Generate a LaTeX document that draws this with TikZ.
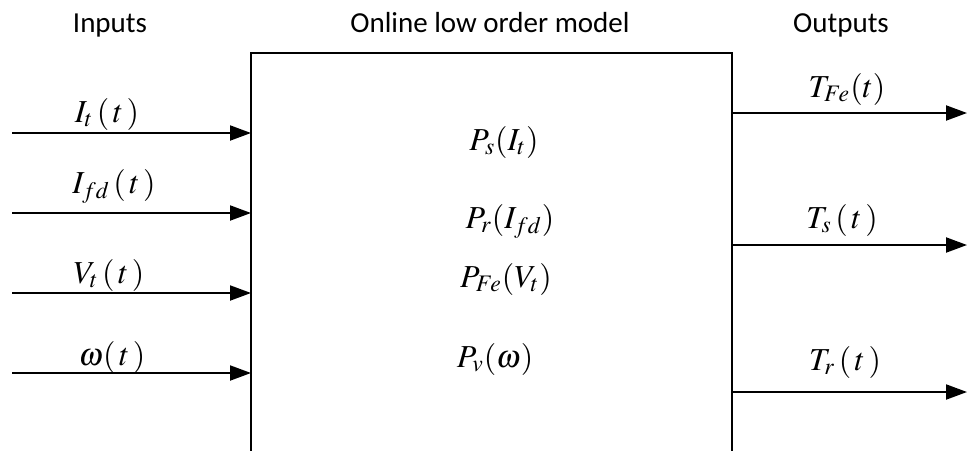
\documentclass[tikz,border=0pt]{standalone}
\usepackage{mathptmx}
\usepackage[no-math]{fontspec}
\setmainfont{Carlito}
\usetikzlibrary{arrows.meta,positioning}

\begin{document}
\begin{tikzpicture}[
    x=0.5pt, y=-0.5pt,
    frame/.style={draw, line width=1pt},
    head/.style={font=\fontsize{14.5}{17}\selectfont, anchor=base},
    sig/.style={font=\fontsize{16}{19}\selectfont, anchor=base},
    arrow/.style={-{Triangle[length=10.5pt,width=7.5pt]}, line width=1pt}
]
\useasboundingbox (0,0) rectangle (967,450);
\clip (0,0) rectangle (967,450);
% headings
\node[head] (hin) at (110,32) {Inputs};
\node[head] (hmod) at (490,32) {Online low order model};
\node[head] (hout) at (841,32) {Outputs};
% model block, open at the bottom edge
\coordinate (mbl) at (251,460);
\coordinate (mtr) at (732,53);
\coordinate (mbr) at (732,460);
\draw[frame] (mbl) |- (mtr) -- (mbr);
\node[sig] (ps) at (504,150) {$P_s(I_t)$};
\node[sig] (pr) at (510,228) {$P_r(I_{fd})$};
\node[sig] (pfe) at (506,287) {$P_{Fe}(V_t)$};
\node[sig] (pv) at (495,367) {$P_v(\omega)$};
% inputs
\coordinate (in1) at (12,133);
\coordinate (in2) at (12,213);
\coordinate (in3) at (12,293);
\coordinate (in4) at (12,373);
\node[sig] (lit) at (107,122) {$I_t\,(\,t\,)$};
\node[sig] (lifd) at (114,193) {$I_{fd}\,(\,t\,)$};
\node[sig] (lvt) at (109,283) {$V_t\,(\,t\,)$};
\node[sig] (lw) at (112,365) {$\omega(\,t\,)$};
\draw[arrow] (in1) -- (mbl |- in1);
\draw[arrow] (in2) -- (mbl |- in2);
\draw[arrow] (in3) -- (mbl |- in3);
\draw[arrow] (in4) -- (mbl |- in4);
% outputs
\coordinate (out1) at (967,113);
\coordinate (out2) at (967,245);
\coordinate (out3) at (967,392);
\node[sig] (ltfe) at (847,97) {$T_{Fe}(t)$};
\node[sig] (lts) at (842,228) {$T_s\,(\,t\,)$};
\node[sig] (ltr) at (845,370) {$T_r\,(\,t\,)$};
\draw[arrow] (mbr |- out1) -- (out1);
\draw[arrow] (mbr |- out2) -- (out2);
\draw[arrow] (mbr |- out3) -- (out3);
\end{tikzpicture}
\end{document}
